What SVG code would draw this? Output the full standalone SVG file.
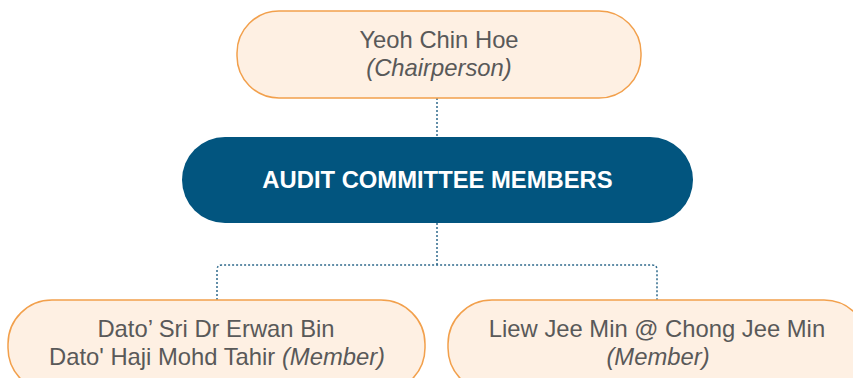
<svg xmlns="http://www.w3.org/2000/svg" width="853" height="378" viewBox="0 0 853 378">
<style>
.box{fill:#FEF0E3;stroke:#F2A04C;stroke-width:1.5}
.main{fill:#02557F}
.t{font-family:"Liberation Sans",Arial,sans-serif;font-size:23.8px;fill:#595959;text-anchor:middle}
.i{font-style:italic}
.b{font-family:"Liberation Sans",Arial,sans-serif;font-size:23.8px;font-weight:bold;fill:#FFFFFF;text-anchor:middle}
.c{fill:none;stroke:#2F6A8C;stroke-width:1.5;stroke-dasharray:2 2}
</style>
<rect width="853" height="378" fill="#FFFFFF"/>
<g id="connectors">
<path class="c" d="M437 98 V137"/>
<path class="c" d="M437 223 V265"/>
<path class="c" d="M217 300 V270 Q217 265 222 265 H652 Q657 265 657 270 V300"/>
</g>
<g id="chair">
<rect class="box" x="237" y="11" width="404" height="87" rx="42"/>
<text class="t" x="439" y="48">Yeoh Chin Hoe</text>
<text class="t i" x="439" y="76">(Chairperson)</text>
</g>
<g id="committee">
<rect class="main" x="182" y="137" width="511" height="86" rx="43"/>
<text class="b" x="437.5" y="188">AUDIT COMMITTEE MEMBERS</text>
</g>
<g id="member1">
<rect class="box" x="8" y="300" width="417" height="92" rx="44"/>
<text class="t" x="216" y="337">Dato’ Sri Dr Erwan Bin</text>
<text class="t" x="217" y="365">Dato' Haji Mohd Tahir <tspan class="i">(Member)</tspan></text>
</g>
<g id="member2">
<rect class="box" x="448" y="300" width="420" height="92" rx="44"/>
<text class="t" x="657" y="337">Liew Jee Min @ Chong Jee Min</text>
<text class="t i" x="658" y="365">(Member)</text>
</g>
</svg>
